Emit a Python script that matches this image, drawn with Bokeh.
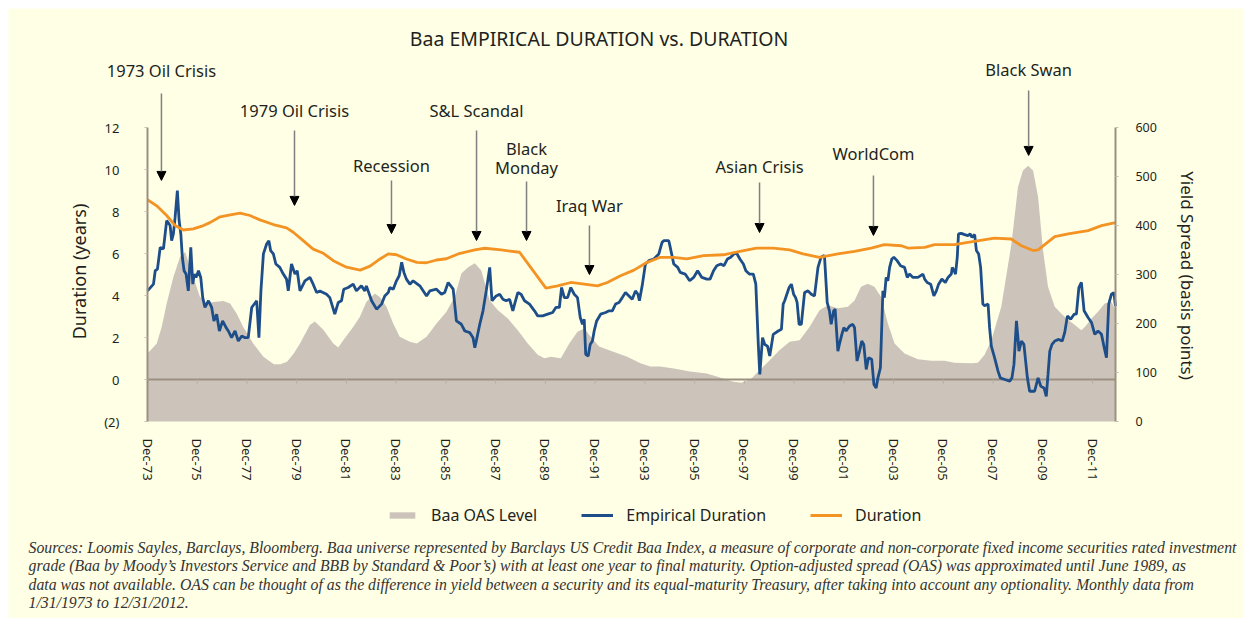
import math
from bokeh.plotting import figure
from bokeh.models import (Range1d, LinearAxis, FixedTicker, Label, Arrow, NormalHead,
                          Legend, LegendItem)
from bokeh.embed import file_html
from bokeh.resources import INLINE

# ---------------- data ----------------
emp_years = [1973.92, 1974.16, 1974.23, 1974.32, 1974.43, 1974.56, 1974.69, 1974.83, 1974.89, 1974.96,
             1975.03, 1975.12, 1975.19, 1975.26, 1975.32, 1975.39, 1975.47, 1975.56, 1975.66, 1975.74,
             1975.80, 1975.87, 1975.97, 1976.06, 1976.14, 1976.23, 1976.37, 1976.50, 1976.59, 1976.70,
             1976.81, 1976.94, 1977.08, 1977.17, 1977.30, 1977.44, 1977.57, 1977.71, 1977.84, 1977.97,
             1978.11, 1978.31, 1978.40, 1978.48, 1978.58, 1978.71, 1978.80, 1978.87, 1978.98, 1979.08,
             1979.24, 1979.38, 1979.51, 1979.58, 1979.71, 1979.85, 1979.94, 1980.05, 1980.25, 1980.45,
             1980.58, 1980.72, 1980.85, 1981.12, 1981.25, 1981.45, 1981.59, 1981.72, 1981.81, 1981.99,
             1982.19, 1982.32, 1982.52, 1982.66, 1982.72, 1982.93, 1983.13, 1983.33, 1983.46, 1983.60,
             1983.66, 1983.80, 1983.93, 1984.04, 1984.14, 1984.23, 1984.33, 1984.47, 1984.60, 1984.87,
             1985.14, 1985.27, 1985.54, 1985.74, 1985.87,
             1986.01, 1986.21, 1986.34, 1986.54, 1986.68, 1986.88, 1987.01, 1987.08, 1987.14, 1987.28,
             1987.41, 1987.54, 1987.68, 1987.77, 1987.94, 1988.08, 1988.21, 1988.34, 1988.48, 1988.61,
             1988.70, 1988.81, 1988.94, 1989.08, 1989.28, 1989.48, 1989.61, 1989.81, 1990.01, 1990.21,
             1990.34, 1990.48, 1990.57, 1990.68, 1990.81, 1990.94, 1991.08, 1991.21, 1991.32, 1991.41,
             1991.48, 1991.54, 1991.64, 1991.72, 1991.81, 1991.88, 1991.98, 1992.14, 1992.34, 1992.48,
             1992.61, 1992.74, 1992.88, 1993.01, 1993.14, 1993.28, 1993.41, 1993.54, 1993.64, 1993.70,
             1993.81, 1993.94, 1994.08, 1994.28, 1994.48, 1994.61, 1994.68, 1994.88, 1994.94, 1995.08,
             1995.24, 1995.34, 1995.54, 1995.72, 1995.88, 1996.04, 1996.21, 1996.41, 1996.54, 1996.68,
             1996.81, 1996.97, 1997.10, 1997.24, 1997.37, 1997.50, 1997.61, 1997.74, 1997.88, 1997.98,
             1998.12, 1998.28, 1998.38, 1998.48, 1998.54, 1998.65, 1998.74, 1998.85, 1998.94, 1999.08,
             1999.28, 1999.41, 1999.48, 1999.54, 1999.72, 1999.81, 1999.90, 1999.98, 2000.04, 2000.12,
             2000.21, 2000.34, 2000.48, 2000.61, 2000.74, 2000.88,
             2001.00, 2001.14, 2001.25, 2001.34, 2001.41, 2001.51, 2001.57, 2001.68, 2001.74, 2001.84,
             2001.92, 2002.01, 2002.15, 2002.28, 2002.35, 2002.45, 2002.55, 2002.64, 2002.72, 2002.82,
             2002.91, 2003.04, 2003.13, 2003.22, 2003.29, 2003.39, 2003.49, 2003.55, 2003.62, 2003.69,
             2003.76, 2003.85, 2003.93, 2004.06, 2004.20, 2004.36, 2004.47, 2004.56, 2004.70, 2004.90,
             2005.10, 2005.17, 2005.27, 2005.41, 2005.54, 2005.64, 2005.73, 2005.86, 2006.00, 2006.11,
             2006.24, 2006.28, 2006.35, 2006.41, 2006.48, 2006.53, 2006.64, 2006.78, 2006.91, 2007.00,
             2007.07, 2007.18, 2007.25, 2007.34, 2007.42, 2007.51, 2007.58, 2007.72, 2007.78, 2007.85,
             2007.98, 2008.12, 2008.21, 2008.39, 2008.59, 2008.68, 2008.76, 2008.86, 2008.92, 2008.96,
             2009.06, 2009.16, 2009.30, 2009.39, 2009.59, 2009.73, 2009.84, 2009.97, 2010.06, 2010.13,
             2010.20, 2010.29, 2010.40, 2010.56, 2010.70, 2010.80, 2010.91, 2011.04, 2011.18, 2011.27,
             2011.37, 2011.47, 2011.58, 2011.74, 2011.88, 2012.01, 2012.14, 2012.28, 2012.39, 2012.48,
             2012.57, 2012.68, 2012.78, 2012.84]
emp_duration = [4.22, 4.54, 5.18, 5.26, 6.29, 6.22, 7.57, 7.33, 6.61, 6.93,
                7.73, 9.00, 7.57, 6.93, 5.82, 5.18, 5.02, 4.22, 6.29, 4.54,
                5.02, 4.86, 5.18, 4.86, 3.90, 3.43, 3.75, 3.43, 2.79, 3.11,
                2.31, 2.79, 2.47, 2.31, 1.99, 2.31, 1.83, 2.07, 1.99, 1.99,
                3.43, 3.75, 1.99, 4.22, 5.98, 6.45, 6.61, 6.14, 5.98, 5.50,
                5.34, 5.02, 4.78, 4.22, 5.50, 5.02, 5.18, 4.22, 4.70, 4.86,
                4.54, 4.14, 4.22, 4.06, 3.90, 3.11, 3.67, 3.75, 4.30, 4.38,
                4.54, 4.22, 4.46, 4.22, 4.46, 3.75, 3.35, 3.59, 3.98, 4.14,
                4.38, 4.30, 4.70, 4.94, 5.58, 5.10, 4.78, 4.54, 4.70, 4.46,
                3.98, 4.22, 4.30, 4.06, 4.14,
                4.62, 4.30, 2.79, 2.63, 2.31, 2.23, 1.99, 1.51, 1.83, 2.63,
                3.27, 4.22, 5.34, 3.75, 3.98, 4.06, 3.82, 3.75, 3.82, 3.27,
                3.67, 4.14, 4.06, 3.75, 3.59, 3.27, 3.03, 3.03, 3.11, 3.19,
                3.43, 3.43, 4.38, 3.90, 3.90, 4.38, 4.06, 3.90, 2.95, 2.63,
                2.87, 1.20, 1.12, 1.67, 1.83, 2.31, 2.79, 3.11, 3.19, 3.27,
                3.27, 3.59, 3.67, 3.90, 4.14, 3.98, 3.82, 4.22, 4.06, 3.75,
                4.46, 5.50, 5.66, 5.74, 5.98, 6.53, 6.61, 6.61, 6.29, 5.50,
                5.34, 5.10, 5.02, 4.70, 4.86, 5.18, 4.86, 4.78, 4.78, 5.18,
                5.42, 5.50, 5.42, 5.74, 5.82, 5.98, 6.01, 5.74, 5.50, 5.18,
                5.02, 5.02, 4.54, 1.67, 0.24, 1.99, 1.67, 1.59, 1.12, 2.15,
                2.31, 2.39, 3.59, 3.75, 4.38, 4.54, 4.06, 3.90, 3.67, 2.63,
                2.63, 4.14, 4.22, 4.06, 3.98, 5.34,
                5.82, 5.90, 3.67, 3.27, 2.63, 3.27, 3.35, 1.35, 1.67, 2.15,
                2.47, 2.31, 2.55, 2.63, 2.47, 0.88, 1.35, 1.83, 1.67, 0.48,
                1.04, 0.96, -0.24, -0.40, 0.08, 0.56, 4.22, 3.90, 4.86, 4.70,
                5.34, 5.74, 5.82, 5.66, 5.42, 5.34, 4.86, 5.02, 4.86, 4.86,
                5.02, 4.78, 4.62, 4.54, 3.98, 4.22, 4.54, 4.78, 4.62, 4.86,
                5.02, 5.34, 5.18, 5.02, 5.82, 6.93, 6.96, 6.90, 6.85, 6.93,
                6.77, 6.90, 6.14, 5.98, 5.34, 3.59, 3.51, 3.59, 2.47, 1.59,
                1.04, 0.40, 0.08, 0.00, -0.08, 0.08, 0.72, 2.79, 1.99, 1.35,
                1.83, 1.67, 0.08, -0.56, -0.56, 0.08, -0.32, -0.40, -0.80, 0.24,
                1.35, 1.67, 1.83, 1.91, 1.83, 2.23, 3.03, 2.87, 3.11, 3.11,
                4.38, 4.62, 3.27, 2.95, 2.71, 2.15, 2.31, 2.15, 1.51, 1.04,
                3.59, 4.06, 4.14, 3.50]

dur_years = [1973.92, 1974.29, 1974.69, 1975.03, 1975.36, 1975.76, 1976.17, 1976.43, 1976.84, 1977.25,
             1977.64, 1978.04, 1978.44, 1978.98, 1979.51, 1979.78, 1980.18, 1980.58, 1980.99, 1981.39,
             1981.92, 1982.47, 1982.87, 1983.27, 1983.60, 1983.93, 1984.33, 1984.75, 1985.14, 1985.54,
             1985.94, 1986.41, 1987.08, 1987.48, 1988.14, 1988.88, 1989.94, 1990.41, 1990.94, 1991.48,
             1992.01, 1992.41, 1992.94, 1993.48, 1994.01, 1994.54, 1995.08, 1995.61, 1996.28, 1997.08,
             1997.74, 1998.41, 1999.08, 1999.74, 2000.28, 2000.94, 2001.68, 2002.35, 2003.02, 2003.55,
             2004.23, 2004.49, 2005.17, 2005.57, 2006.37, 2006.91, 2007.98, 2008.65, 2009.06, 2009.53,
             2009.73, 2010.40, 2010.94, 2011.74, 2012.28, 2012.84]
duration = [8.56, 8.27, 7.81, 7.33, 7.12, 7.17, 7.33, 7.47, 7.75, 7.84,
            7.92, 7.81, 7.60, 7.38, 7.22, 7.01, 6.61, 6.21, 6.01, 5.66,
            5.35, 5.21, 5.40, 5.74, 5.98, 5.94, 5.74, 5.58, 5.56, 5.69,
            5.75, 5.98, 6.17, 6.25, 6.17, 6.06, 4.35, 4.46, 4.62, 4.54,
            4.46, 4.62, 4.94, 5.21, 5.58, 5.82, 5.82, 5.74, 5.90, 5.94,
            6.10, 6.26, 6.26, 6.17, 5.98, 5.82, 5.98, 6.10, 6.26, 6.42,
            6.37, 6.26, 6.29, 6.42, 6.42, 6.53, 6.73, 6.69, 6.37, 6.14,
            6.17, 6.80, 6.93, 7.09, 7.33, 7.47]

oas_years = [1973.92, 1974.29, 1974.49, 1974.69, 1974.96, 1975.23, 1975.43, 1975.76, 1976.03, 1976.30,
             1976.57, 1976.97, 1977.24, 1977.51, 1977.77, 1978.17, 1978.58, 1979.00, 1979.26, 1979.53,
             1979.80, 1980.05, 1980.45, 1980.65, 1980.99, 1981.39, 1981.59, 1981.79, 1982.19, 1982.46,
             1982.72, 1983.06, 1983.26, 1983.53, 1983.80, 1984.06, 1984.47, 1984.75, 1985.14, 1985.54,
             1985.94, 1986.27, 1986.54, 1986.81, 1987.08, 1987.34, 1987.68, 1988.01, 1988.41, 1988.81,
             1989.21, 1989.61, 1989.88, 1990.14, 1990.54, 1990.88, 1991.21, 1991.48, 1991.74, 1992.08,
             1992.68, 1993.21, 1993.74, 1994.14, 1994.54, 1995.08, 1995.74, 1996.41, 1997.08, 1997.48,
             1997.81, 1998.21, 1998.54, 1998.94, 1999.34, 1999.74, 2000.14, 2000.54, 2000.94, 2001.28,
             2001.68, 2002.08, 2002.35, 2002.61, 2002.88, 2003.15, 2003.42, 2003.69, 2003.96, 2004.36,
             2004.90, 2005.43, 2005.97, 2006.37, 2007.04, 2007.31, 2007.58, 2007.85, 2008.25, 2008.66,
             2008.92, 2009.12, 2009.33, 2009.53, 2009.73, 2009.93, 2010.13, 2010.40, 2010.67, 2010.94,
             2011.21, 2011.47, 2011.61, 2011.88, 2012.14, 2012.41, 2012.68, 2012.84]
oas_bp = [139, 159, 193, 241, 295, 336, 346, 295, 254, 241,
          244, 246, 241, 220, 193, 159, 132, 117, 117, 122,
          139, 159, 197, 204, 187, 159, 151, 166, 193, 214,
          244, 261, 254, 234, 200, 173, 163, 159, 173, 200,
          224, 254, 302, 315, 323, 308, 247, 227, 210, 186,
          159, 136, 129, 132, 129, 159, 183, 190, 173, 153,
          142, 132, 119, 112, 112, 108, 102, 98, 88, 81,
          79, 88, 105, 125, 146, 163, 166, 193, 227, 237,
          231, 234, 247, 275, 281, 275, 254, 200, 159, 139,
          127, 124, 124, 120, 119, 120, 136, 166, 234, 363,
          478, 512, 522, 512, 458, 349, 275, 234, 220, 207,
          197, 186, 193, 210, 224, 241, 244, 228]

tick_years = [1973.92, 1975.92, 1977.92, 1979.92, 1981.92, 1983.92, 1985.92, 1987.92, 1989.92, 1991.92,
              1993.92, 1995.92, 1997.92, 1999.92, 2001.92, 2003.92, 2005.92, 2007.92, 2009.92, 2011.92]
tick_labels = ["Dec-73", "Dec-75", "Dec-77", "Dec-79", "Dec-81", "Dec-83", "Dec-85", "Dec-87", "Dec-89",
               "Dec-91", "Dec-93", "Dec-95", "Dec-97", "Dec-99", "Dec-01", "Dec-03", "Dec-05", "Dec-07",
               "Dec-09", "Dec-11"]
left_ticks = [-2, 0, 2, 4, 6, 8, 10, 12]
left_labels = ["(2)", "0", "2", "4", "6", "8", "10", "12"]
right_ticks = [0, 100, 200, 300, 400, 500, 600]
x_start, x_end = 1973.917, 2012.84          # extent of the plotted period

event_names = ["1973 Oil Crisis", "1979 Oil Crisis", "Recession", "S&L Scandal", "Black",
               "Iraq War", "Asian Crisis", "WorldCom", "Black Swan"]
event_years = [1974.48, 1979.83, 1983.73, 1987.15, 1989.16, 1991.69, 1998.53, 2003.11, 2009.35]
# placement (in left-axis units) of label, arrow top and arrow tip
event_label_y = [14.71, 12.81, 10.19, 12.81, 11.00, 8.29, 10.14, 10.76, 14.76]
event_arrow_top = [13.62, 11.86, 9.48, 11.86, 9.43, 7.33, 9.38, 9.71, 13.76]
event_arrow_tip = [9.48, 8.29, 6.95, 6.62, 6.62, 5.00, 7.00, 6.86, 10.67]
second_line = {"Black": ("Monday", 10.10)}

footnote = [
    "Sources: Loomis Sayles, Barclays, Bloomberg. Baa universe represented by Barclays US Credit Baa Index, a measure of  corporate and non-corporate fixed income securities rated investment",
    "grade (Baa by Moody\u2019s Investors Service and BBB by Standard & Poor\u2019s) with at least one year to final maturity. Option-adjusted spread (OAS) was approximated until June 1989, as",
    "data was not available. OAS can be thought of  as the difference in yield between a security and its equal-maturity Treasury, after taking into account any optionality. Monthly data from",
    "1/31/1973 to 12/31/2012.",
]

# ---------------- styles ----------------
BG = "#FFFFE6"
GRAY = "#CCC4BA"
BLUE = "#1D4E89"
ORANGE = "#F39323"
AXIS = "#9C8F80"
TXT = "#231F20"
FONT = "Noto Sans"

# the frame fills the whole canvas; axes sit at fixed data locations
p = figure(width=1235, height=610, output_backend="svg", toolbar_location=None,
           x_range=Range1d(1968.33, 2017.99), y_range=Range1d(-11.381, 17.667),
           min_border=0, min_border_left=0, min_border_right=0, min_border_top=0, min_border_bottom=0)
p.margin = (8, 0, 0, 8)
p.background_fill_color = BG
p.border_fill_color = BG
p.outline_line_color = None
p.xgrid.visible = False
p.ygrid.visible = False
p.extra_y_ranges = {"oas": Range1d(-402.04, 842.86)}

area_r = p.varea(x=oas_years, y1=0, y2=oas_bp, y_range_name="oas", fill_color=GRAY)
p.segment(x0=[x_start], y0=[0], x1=[x_end], y1=[0], line_color=AXIS, line_width=2)
p.segment(x0=tick_years, y0=0, x1=tick_years, y1=-0.2, line_color="#B8AEA2", line_width=1)
emp_r = p.line(emp_years, emp_duration, line_color=BLUE, line_width=2.8)
dur_r = p.line(dur_years, duration, line_color=ORANGE, line_width=2.8)

# x axis (labels under the -2 line)
xa = p.xaxis[0]
xa.fixed_location = -2
xa.ticker = FixedTicker(ticks=tick_years)
xa.major_label_overrides = {t: l for t, l in zip(tick_years, tick_labels)}
xa.major_label_orientation = "vertical"
xa.axis_line_color = None
xa.major_tick_line_color = None
xa.minor_tick_line_color = None
xa.major_label_standoff = 11
xa.major_label_text_font = FONT
xa.major_label_text_font_size = "13px"
xa.major_label_text_color = TXT

# left axis
ya = p.yaxis[0]
ya.fixed_location = x_start
ya.bounds = (-2, 12)
ya.ticker = FixedTicker(ticks=left_ticks)
ya.major_label_overrides = {t: l for t, l in zip(left_ticks, left_labels)}
ya.axis_line_color = AXIS
ya.axis_line_width = 2
ya.major_tick_line_color = "#C8C0B4"
ya.major_tick_out = 3
ya.major_tick_in = 0
ya.minor_tick_line_color = None
ya.major_label_standoff = 25
ya.major_label_text_font = FONT
ya.major_label_text_font_size = "13px"
ya.major_label_text_color = TXT

ra = LinearAxis(y_range_name="oas", ticker=FixedTicker(ticks=right_ticks), bounds=(0, 600),
                fixed_location=x_end)
ra.axis_line_color = AXIS
ra.axis_line_width = 2
ra.major_tick_line_color = "#C8C0B4"
ra.major_tick_out = 3
ra.major_tick_in = 0
ra.minor_tick_line_color = None
ra.major_label_standoff = 17
ra.major_label_text_font = FONT
ra.major_label_text_font_size = "12.5px"
ra.major_label_text_color = TXT
p.add_layout(ra, "right")

def screen_label(x, y, text, size, angle=0.0, align="center", font=FONT, style="normal", color=TXT):
    p.add_layout(Label(x=x, y=y, x_units="screen", y_units="screen", text=text, angle=angle,
                       text_align=align, text_baseline="middle", text_font=font,
                       text_font_style=style, text_font_size=size, text_color=color))

# title and axis titles (screen units from the canvas' bottom-left corner)
screen_label(590.5, 580, "Baa EMPIRICAL DURATION vs. DURATION", "19.5px")
screen_label(70, 347, "Duration (years)", "18px", angle=math.pi / 2)
screen_label(1179, 343, "Yield Spread (basis points)", "17px", angle=-math.pi / 2)

# event annotations
for name, ex, ly, at, tip in zip(event_names, event_years, event_label_y, event_arrow_top, event_arrow_tip):
    p.add_layout(Label(x=ex, y=ly, text=name, text_align="center", text_baseline="middle",
                       text_font=FONT, text_font_size="16.5px", text_color=TXT))
    if name in second_line:
        t2, y2 = second_line[name]
        p.add_layout(Label(x=ex, y=y2, text=t2, text_align="center", text_baseline="middle",
                           text_font=FONT, text_font_size="16.5px", text_color=TXT))
    p.add_layout(Arrow(x_start=ex, y_start=at, x_end=ex, y_end=tip, line_color="#808080", line_width=1.5,
                       end=NormalHead(size=9, fill_color="black", line_color="black")))

# legend
legend = Legend(items=[LegendItem(label="Baa OAS Level", renderers=[area_r]),
                       LegendItem(label="Empirical Duration", renderers=[emp_r]),
                       LegendItem(label="Duration", renderers=[dur_r])],
                orientation="horizontal", location=(378, 92),
                glyph_width=32, glyph_height=8, label_height=8, label_standoff=13, spacing=44,
                padding=0, margin=0, border_line_color=None, background_fill_alpha=0,
                label_text_font=FONT, label_text_font_size="16px", label_text_color=TXT)
p.add_layout(legend)

# source note
for i, line in enumerate(footnote):
    screen_label(20, 71 - 18.3 * i, line, "15.8px", align="left", font="Liberation Serif",
                 style="italic", color="#333333")

open("out.html", "w").write(file_html(p, INLINE))
